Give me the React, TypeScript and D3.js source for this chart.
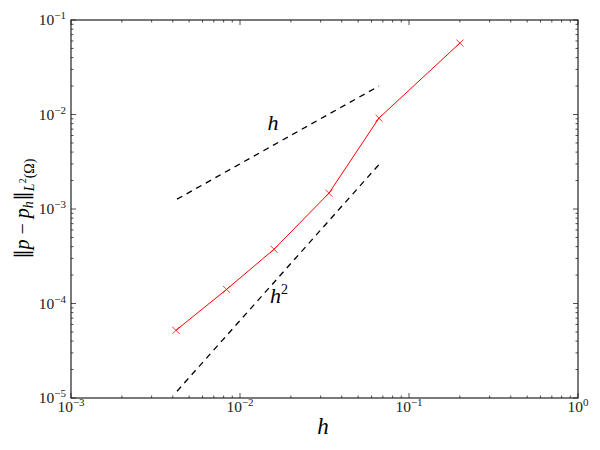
import * as React from 'react'
import { useEffect, useRef } from 'react'
import * as d3 from 'd3'

// mesh sizes and L2 pressure errors
const hValues = [0.00418, 0.00833, 0.0159, 0.0336, 0.0664, 0.2]
const errValues = [5.2e-5, 1.41e-4, 3.75e-4, 1.47e-3, 9.16e-3, 5.7e-2]

// reference slopes
const refX = [0.00424, 0.0664]
const refLinear = [1.27e-3, 2.0e-2]
const refQuad = [1.18e-5, 2.95e-3]

const xDecades = [-3, -2, -1, 0]
const yDecades = [-5, -4, -3, -2, -1]

const width = 600
const height = 450
const margin = { top: 20, right: 22, bottom: 52, left: 71 }
const FONT = 'Liberation Serif'

export default function App() {
  const svgRef = useRef<SVGSVGElement>(null)

  useEffect(() => {
    if (!svgRef.current) return
    const svg = d3.select(svgRef.current)
    svg.selectAll('*').remove()

    const innerW = width - margin.left - margin.right
    const innerH = height - margin.top - margin.bottom

    const x = d3.scaleLog().domain([1e-3, 1]).range([0, innerW])
    const y = d3.scaleLog().domain([1e-5, 1e-1]).range([innerH, 0])

    const g = svg.append('g').attr('transform', `translate(${margin.left},${margin.top})`)

    // reference lines
    const line = d3.line<[number, number]>()
      .x(d => x(d[0]))
      .y(d => y(d[1]))

    g.append('path')
      .attr('d', line(refX.map((v, i) => [v, refLinear[i]]) as [number, number][]) || '')
      .attr('fill', 'none')
      .attr('stroke', '#000')
      .attr('stroke-width', 1.3)
      .attr('stroke-dasharray', '6,5')

    g.append('path')
      .attr('d', line(refX.map((v, i) => [v, refQuad[i]]) as [number, number][]) || '')
      .attr('fill', 'none')
      .attr('stroke', '#000')
      .attr('stroke-width', 1.3)
      .attr('stroke-dasharray', '6,5')

    // error curve
    const pts = hValues.map((v, i) => [v, errValues[i]] as [number, number])
    g.append('path')
      .attr('d', line(pts) || '')
      .attr('fill', 'none')
      .attr('stroke', '#ff0000')
      .attr('stroke-width', 1)

    const s = 3.5
    g.selectAll('.mark')
      .data(pts)
      .join('path')
      .attr('class', 'mark')
      .attr('d', d => {
        const cx = x(d[0]), cy = y(d[1])
        return `M${cx - s},${cy - s}L${cx + s},${cy + s}M${cx - s},${cy + s}L${cx + s},${cy - s}`
      })
      .attr('stroke', '#ff0000')
      .attr('stroke-width', 0.8)

    // slope labels
    g.append('text')
      .attr('x', 273 - margin.left)
      .attr('y', 130 - margin.top)
      .attr('text-anchor', 'middle')
      .attr('font-family', FONT)
      .attr('font-style', 'italic')
      .attr('font-size', 22)
      .attr('fill', '#000')
      .text('h')

    const h2 = g.append('text')
      .attr('x', 270 - margin.left)
      .attr('y', 303 - margin.top)
      .attr('font-family', FONT)
      .attr('font-size', 22)
      .attr('fill', '#000')
    h2.append('tspan').attr('font-style', 'italic').text('h')
    h2.append('tspan').attr('font-size', 14).attr('dy', -9).text('2')

    // frame
    g.append('rect')
      .attr('width', innerW)
      .attr('height', innerH)
      .attr('fill', 'none')
      .attr('stroke', '#222')
      .attr('stroke-width', 1.2)

    const isMajor = (v: number) => Math.abs(Math.log10(v) - Math.round(Math.log10(v))) < 1e-9

    // x ticks, bottom and top, pointing inward
    x.ticks().forEach(v => {
      const len = isMajor(v) ? 5 : 2.5
      const px = x(v)
      g.append('line').attr('x1', px).attr('x2', px).attr('y1', innerH).attr('y2', innerH - len)
        .attr('stroke', '#222').attr('stroke-width', 0.8)
      g.append('line').attr('x1', px).attr('x2', px).attr('y1', 0).attr('y2', len)
        .attr('stroke', '#222').attr('stroke-width', 0.8)
    })
    y.ticks().forEach(v => {
      const len = isMajor(v) ? 5 : 2.5
      const py = y(v)
      g.append('line').attr('x1', 0).attr('x2', len).attr('y1', py).attr('y2', py)
        .attr('stroke', '#222').attr('stroke-width', 0.8)
      g.append('line').attr('x1', innerW).attr('x2', innerW - len).attr('y1', py).attr('y2', py)
        .attr('stroke', '#222').attr('stroke-width', 0.8)
    })

    // tick labels
    const expText = (e: number) => (e < 0 ? '\u2212' + Math.abs(e) : String(e))

    xDecades.forEach(e => {
      const t = g.append('text')
        .attr('x', x(Math.pow(10, e)))
        .attr('y', innerH + 14)
        .attr('text-anchor', 'middle')
        .attr('font-family', FONT)
        .attr('font-size', 15.5)
        .attr('fill', '#222')
      t.append('tspan').text('10')
      t.append('tspan').attr('font-size', 11).attr('dy', -6).text(expText(e))
    })

    yDecades.forEach(e => {
      const t = g.append('text')
        .attr('x', -5)
        .attr('y', y(Math.pow(10, e)) + 5)
        .attr('text-anchor', 'end')
        .attr('font-family', FONT)
        .attr('font-size', 15.5)
        .attr('fill', '#222')
      t.append('tspan').text('10')
      t.append('tspan').attr('font-size', 11).attr('dy', -6).text(expText(e))
    })

    // axis titles
    svg.append('text')
      .attr('x', 323)
      .attr('y', 434)
      .attr('text-anchor', 'middle')
      .attr('font-family', FONT)
      .attr('font-style', 'italic')
      .attr('font-size', 23)
      .attr('fill', '#000')
      .text('h')

    const yl = svg.append('text')
      .attr('transform', `translate(29, ${margin.top + innerH / 2}) rotate(-90)`)
      .attr('text-anchor', 'middle')
      .attr('font-family', FONT)
      .attr('font-size', 20)
      .attr('fill', '#000')
    yl.append('tspan').text('\u2225')
    yl.append('tspan').attr('font-style', 'italic').text('p')
    yl.append('tspan').text(' \u2212 ')
    yl.append('tspan').attr('font-style', 'italic').text('p')
    yl.append('tspan').attr('font-style', 'italic').attr('font-size', 14).attr('dy', 4).text('h')
    yl.append('tspan').attr('dy', -4).text('\u2225')
    yl.append('tspan').attr('font-style', 'italic').attr('font-size', 14).attr('dy', 5).text('L')
    yl.append('tspan').attr('font-size', 10).attr('dy', -8).text('2')
    yl.append('tspan').attr('font-size', 14).attr('dy', 8).text('(\u03a9)')
  }, [])

  return (
    <svg
      ref={svgRef}
      width={width}
      height={height}
      style={{ position: 'absolute', left: 0, top: 0, background: '#fff' }}
    />
  )
}
